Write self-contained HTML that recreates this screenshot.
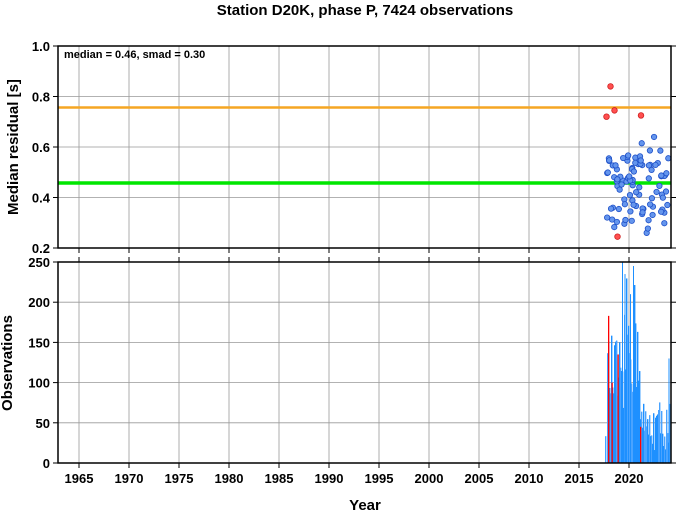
<!DOCTYPE html>
<html><head><meta charset="utf-8"><style>
html,body{margin:0;padding:0;background:#fff}
svg{display:block;font-family:"Liberation Sans",sans-serif}
</style></head><body>
<svg id="s" width="677" height="511" viewBox="0 0 677 511" xmlns="http://www.w3.org/2000/svg">
<rect width="677" height="511" fill="#fff"/>
<text x="365" y="15" font-size="15" font-weight="bold" text-anchor="middle">Station D20K, phase P, 7424 observations</text>
<g id="grid" stroke="#999" stroke-width="0.8"></g>
<g id="data"></g>
<line x1="58" y1="107.5" x2="671" y2="107.5" stroke="#f5a623" stroke-width="2.5"/>
<line x1="58" y1="183" x2="671" y2="183" stroke="#00e600" stroke-width="3.5"/>
<g id="pts"></g>
<g id="frame" fill="none" stroke="#000"></g>
<g id="lbl" font-size="13" font-weight="bold"></g>
<text x="64" y="58" font-size="11" font-weight="bold">median = 0.46, smad = 0.30</text>
<text transform="translate(18,147) rotate(-90)" font-size="15" font-weight="bold" text-anchor="middle">Median residual [s]</text>
<text transform="translate(12,363) rotate(-90)" font-size="15" font-weight="bold" text-anchor="middle">Observations</text>
<text x="365" y="510" font-size="15" font-weight="bold" text-anchor="middle">Year</text>
</svg>
<script>
var NS="http://www.w3.org/2000/svg";
function el(p,t,a,txt){var e=document.createElementNS(NS,t);for(var k in a)e.setAttribute(k,a[k]);if(txt!=null)e.textContent=txt;document.getElementById(p).appendChild(e);return e;}
function X(y){return 79+(y-1965)*10;}
function YT(v){return 46+(1-v)/0.2*50.5;}
function YB(v){return 463-v/250*201;}
for(var y=1965;y<=2020;y+=5){el("grid","line",{x1:X(y),y1:46,x2:X(y),y2:248});el("grid","line",{x1:X(y),y1:262,x2:X(y),y2:463});
 el("frame","line",{x1:X(y),y1:248,x2:X(y),y2:253,"stroke-width":1});el("frame","line",{x1:X(y),y1:463,x2:X(y),y2:468,"stroke-width":1});el("frame","line",{x1:X(y),y1:257,x2:X(y),y2:262,"stroke-width":1});
 el("lbl","text",{x:X(y),y:483,"text-anchor":"middle"},String(y));}
[0.4,0.6,0.8].forEach(function(v){el("grid","line",{x1:58,y1:YT(v),x2:671,y2:YT(v)});});
[0.2,0.4,0.6,0.8,1.0].forEach(function(v){el("frame","line",{x1:53,y1:YT(v),x2:58,y2:YT(v)});el("frame","line",{x1:671,y1:YT(v),x2:676,y2:YT(v)});el("lbl","text",{x:50,y:YT(v)+5,"text-anchor":"end"},v.toFixed(1));});
[50,100,150,200].forEach(function(v){el("grid","line",{x1:58,y1:YB(v),x2:671,y2:YB(v)});});
[0,50,100,150,200,250].forEach(function(v){el("frame","line",{x1:53,y1:YB(v),x2:58,y2:YB(v)});el("frame","line",{x1:671,y1:YB(v),x2:676,y2:YB(v)});el("lbl","text",{x:50,y:YB(v)+5,"text-anchor":"end"},String(v));});
el("frame","rect",{x:58,y:46,width:613,height:202,"stroke-width":1.5});
el("frame","rect",{x:58,y:262,width:613,height:201,"stroke-width":1.5});
var sd=12345;function r(){sd=(sd*16807)%2147483647;return sd/2147483647;}
for(var t=2017.6;t<2024.05;t+=0.1){
 var h;
 if(t<2018.5)h=60+r()*100;else if(t<2019)h=50+r()*110;else if(t<2019.4)h=40+r()*80;
 else if(t<2021)h=80+r()*150;else if(t<2021.4)h=20+r()*60;else if(t<2022)h=20+r()*50;else h=15+r()*65;
 if(t<2017.75)h=r()*40;
 el("data","rect",{x:X(t),y:YB(h),width:1.4,height:463-YB(h),fill:r()<0.5?"#1e90ff":"#4aa3ff"});
}
[[2019.3,250],[2020.4,245],[2019.55,235],[2019.7,200],[2020.1,210]].forEach(function(b){el("data","rect",{x:X(b[0]),y:YB(b[1]),width:1,height:463-YB(b[1]),fill:"#1e90ff"});});
el("data","rect",{x:X(2023.95),y:YB(130),width:1,height:463-YB(130),fill:"#1e90ff"});
[[2017.9,183],[2018.85,135],[2018.25,100],[2021.1,45]].forEach(function(b){el("data","rect",{x:X(b[0]),y:YB(b[1]),width:1.3,height:463-YB(b[1]),fill:"#ff0000"});});
for(var i=0;i<95;i++){var t=2017.8+r()*6.2;var v=0.3+r()*0.3+(r()-0.5)*0.12;if(v<0.23)v=0.23;
 el("pts","circle",{cx:X(t),cy:YT(v),r:2.7,fill:"#6495ed",stroke:"#1e50c8","stroke-width":0.8});}
[[2017.75,0.72],[2018.15,0.84],[2018.55,0.745],[2021.2,0.725],[2018.85,0.245]].forEach(function(p){el("pts","circle",{cx:X(p[0]),cy:YT(p[1]),r:2.8,fill:"#ff5050",stroke:"#d02020","stroke-width":0.8});});
</script>
</body></html>
